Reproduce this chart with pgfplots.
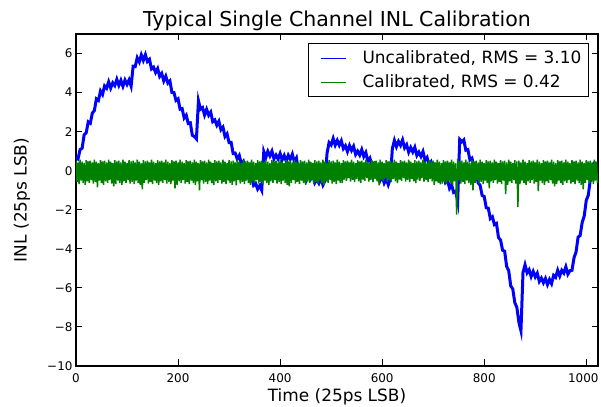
\documentclass[border=0pt]{standalone}
\usepackage{fontspec}
\setmainfont{DejaVu Sans}
\usepackage{pgfplots}
\pgfplotsset{compat=1.18}
\usepackage{pgfplotstable}

% uncalibrated INL, every 4 LSB
\pgfplotstableread{
x y
0 0.68
4 0.60
8 1.08
12 1.15
16 1.84
20 1.94
24 2.50
28 2.43
32 2.95
36 3.08
40 3.68
44 3.60
48 4.08
52 3.90
56 4.34
60 4.22
64 4.55
68 4.23
72 4.50
76 4.36
80 4.68
84 4.37
88 4.63
92 4.32
96 4.64
100 4.42
104 4.65
108 4.33
112 5.35
116 5.33
120 5.78
124 5.57
128 5.93
132 5.65
136 5.94
140 5.59
144 5.70
148 5.21
152 5.30
156 5.03
160 5.23
164 4.83
168 4.98
172 4.60
176 4.84
180 4.49
184 4.60
188 4.01
192 4.00
196 3.60
200 3.68
204 3.15
208 3.18
212 2.70
216 2.84
220 2.42
224 2.45
228 1.81
232 1.75
236 1.63
240 3.58
244 3.15
248 3.23
252 2.85
256 3.14
260 2.84
264 3.00
268 2.51
272 2.60
276 2.33
280 2.53
284 2.10
288 2.23
292 1.75
296 1.89
300 1.44
304 1.45
308 0.88
312 0.90
316 0.60
320 0.78
324 0.35
328 0.48
332 0.05
336 0.24
340 -0.21
344 -0.25
348 -0.75
352 -0.65
356 -0.94
360 -0.77
364 -1.00
368 0.98
372 0.68
376 0.99
380 0.76
384 1.00
388 0.61
392 0.80
396 0.60
400 0.88
404 0.55
408 0.78
412 0.48
416 0.79
420 0.59
424 0.85
428 0.45
432 0.65
436 -0.02
440 0.08
444 -0.30
448 -0.12
452 -0.45
456 -0.16
460 -0.41
464 -0.20
468 -0.62
472 -0.45
476 -0.64
480 -0.37
484 -0.73
488 -0.52
492 0.90
496 1.44
500 1.32
504 1.65
508 1.31
512 1.55
516 1.30
520 1.53
524 1.13
528 1.28
532 0.98
536 1.29
540 1.04
544 1.25
548 0.83
552 1.00
556 0.80
560 1.08
564 0.73
568 0.93
572 0.48
576 0.64
580 0.26
584 0.35
588 -0.25
592 -0.25
596 -0.50
600 -0.27
604 -0.63
608 -0.42
612 -0.72
616 -0.41
620 1.14
624 1.55
628 1.23
632 1.50
636 1.30
640 1.58
644 1.17
648 1.33
652 0.95
656 1.19
660 0.96
664 1.20
668 0.78
672 0.95
676 0.73
680 0.98
684 0.55
688 0.68
692 0.25
696 0.44
700 0.12
704 0.25
708 -0.22
712 -0.10
716 -0.37
720 -0.17
724 -0.60
728 -0.47
732 -0.90
736 -0.71
740 -1.11
744 -1.05
748 -1.57
752 1.60
756 1.48
760 1.58
764 1.05
768 1.08
772 0.55
776 0.64
780 0.14
784 0.10
788 -0.62
792 -0.75
796 -1.27
800 -1.32
804 -1.90
808 -1.92
812 -2.45
816 -2.36
820 -2.76
824 -2.70
828 -3.42
832 -3.55
836 -4.07
840 -4.12
844 -4.90
848 -5.12
852 -5.90
856 -6.06
860 -6.76
864 -7.00
868 -7.77
872 -8.20
876 -5.22
880 -4.82
884 -5.23
888 -5.07
892 -5.42
896 -5.16
900 -5.44
904 -5.25
908 -5.67
912 -5.50
916 -5.74
920 -5.52
924 -5.83
928 -5.57
932 -5.78
936 -5.36
940 -5.46
944 -5.10
948 -5.39
952 -5.10
956 -5.24
960 -4.92
964 -5.30
968 -5.12
972 -5.10
976 -4.46
980 -4.16
984 -3.40
988 -3.32
992 -2.65
996 -2.32
1000 -1.52
1004 -1.25
1008 -0.42
1012 -0.35
1016 0.34
1020 0.24
}\uncal

\definecolor{mplblue}{RGB}{0,0,255}
\definecolor{mplgreen}{RGB}{0,128,0}
% line sample set inside the legend text
\newcommand{\sample}[1]{\textcolor{#1}{\rule[4.25bp]{25bp}{1.5bp}}\hspace{17bp}}

\begin{document}
\begin{tikzpicture}
\useasboundingbox (-76bp,-41bp) rectangle (525bp,366bp);
\begin{axis}[
    at={(0,0)}, anchor=south west,
    scale only axis,
    width=522bp, height=332bp,
    xmin=0, xmax=1023,
    ymin=-10, ymax=7,
    xtick={0,200,400,600,800,1000},
    xticklabels={0,200,400,600,800,{\hspace{-6bp}1000}},
    ytick={-10,-8,-6,-4,-2,0,2,4,6},
    yticklabels={−10,−8,−6,−4,−2,0,2,4,6},
    tick align=inside,
    major tick length=6.5bp,
    tick style={black, line width=1bp},
    axis line style={black, line width=1.2bp},
    ticklabel style={font=\fontsize{12}{14}\selectfont},
    xticklabel style={anchor=base, yshift=-16.5bp},
    title={Typical Single Channel INL Calibration},
    title style={font=\fontsize{20.6}{24}\selectfont, at={(axis description cs:0.5,1)}, anchor=base, yshift=2bp},
    xlabel={Time (25ps LSB)},
    xlabel style={font=\fontsize{17}{20}\selectfont, at={(axis description cs:0.5,0)}, anchor=center, yshift=-31bp},
    ylabel={INL (25ps LSB)},
    ylabel style={font=\fontsize{17}{20}\selectfont, at={(axis description cs:-0.1034,0.5)}, anchor=center},
    legend style={at={(0.9833,0.9738)}, anchor=north east, draw=black, line width=1bp,
        font=\fontsize{17}{20}\selectfont, inner xsep=10bp, inner ysep=5.3bp,
        row sep=5.8bp, column sep=0bp,
        cells={anchor=west}},
    legend image code/.code={},
]
\addplot[mplblue, line width=3bp] table[x=x, y=y] {\uncal};
\addlegendentry{\sample{mplblue}Uncalibrated, RMS = 3.10\kern-4.5bp}
% calibrated INL, every 2 LSB
\addplot[mplgreen, line width=1.5bp] coordinates {
(0,0.52) (2,-0.57) (4,0.42) (6,-0.68) (8,0.56) (10,-0.51) (12,0.46) (14,-0.64)
(16,0.38) (18,-0.73) (20,0.54) (22,-0.55) (24,0.48) (26,-0.62) (28,0.52) (30,-0.48)
(32,0.42) (34,-0.66) (36,0.56) (38,-0.57) (40,0.46) (42,-0.85) (44,0.38) (46,-0.51)
(48,0.54) (50,-0.64) (52,0.48) (54,-0.73) (56,0.52) (58,-0.55) (60,0.42) (62,-0.62)
(64,0.56) (66,-0.48) (68,0.46) (70,-0.66) (72,0.38) (74,-0.80) (76,0.54) (78,-0.68)
(80,0.48) (82,-0.51) (84,0.52) (86,-0.64) (88,0.42) (90,-0.73) (92,0.56) (94,-0.55)
(96,0.46) (98,-0.62) (100,0.38) (102,-0.48) (104,0.54) (106,-0.66) (108,0.48) (110,-0.57)
(112,0.52) (114,-0.68) (116,0.42) (118,-0.51) (120,0.56) (122,-0.64) (124,0.46) (126,-0.73)
(128,0.38) (130,-0.95) (132,0.54) (134,-0.62) (136,0.48) (138,-0.48) (140,0.52) (142,-0.66)
(144,0.42) (146,-0.57) (148,0.56) (150,-0.68) (152,0.46) (154,-0.51) (156,0.38) (158,-0.64)
(160,0.54) (162,-0.73) (164,0.48) (166,-0.55) (168,0.52) (170,-0.62) (172,0.42) (174,-0.48)
(176,0.56) (178,-0.66) (180,0.46) (182,-0.57) (184,0.38) (186,-0.68) (188,0.54) (190,-0.51)
(192,0.48) (194,-0.90) (196,0.52) (198,-0.73) (200,0.42) (202,-0.55) (204,0.56) (206,-0.62)
(208,0.46) (210,-0.48) (212,0.38) (214,-0.66) (216,0.54) (218,-0.57) (220,0.48) (222,-0.68)
(224,0.52) (226,-0.51) (228,0.42) (230,-0.64) (232,0.56) (234,-0.73) (236,0.46) (238,-0.55)
(240,0.38) (242,-1.00) (244,0.54) (246,-0.48) (248,0.48) (250,-0.66) (252,0.52) (254,-0.57)
(256,0.42) (258,-0.68) (260,0.56) (262,-0.51) (264,0.46) (266,-0.64) (268,0.38) (270,-0.73)
(272,0.54) (274,-0.55) (276,0.48) (278,-0.62) (280,0.52) (282,-0.48) (284,0.42) (286,-0.66)
(288,0.56) (290,-0.57) (292,0.46) (294,-0.68) (296,0.38) (298,-0.51) (300,0.54) (302,-0.64)
(304,0.48) (306,-0.73) (308,0.52) (310,-0.55) (312,0.42) (314,-0.75) (316,0.56) (318,-0.48)
(320,0.46) (322,-0.66) (324,0.38) (326,-0.57) (328,0.54) (330,-0.68) (332,0.48) (334,-0.51)
(336,0.52) (338,-0.64) (340,0.42) (342,-0.73) (344,0.56) (346,-0.55) (348,0.46) (350,-0.62)
(352,0.38) (354,-0.48) (356,0.54) (358,-0.66) (360,0.48) (362,-0.57) (364,0.52) (366,-0.68)
(368,0.42) (370,-0.51) (372,0.56) (374,-0.64) (376,0.46) (378,-0.73) (380,0.38) (382,-0.55)
(384,0.54) (386,-0.62) (388,0.48) (390,-0.48) (392,0.52) (394,-0.66) (396,0.42) (398,-0.57)
(400,0.56) (402,-0.68) (404,0.46) (406,-0.51) (408,0.38) (410,-0.64) (412,0.54) (414,-0.73)
(416,0.48) (418,-0.80) (420,0.52) (422,-0.62) (424,0.42) (426,-0.48) (428,0.56) (430,-0.66)
(432,0.46) (434,-0.57) (436,0.38) (438,-0.68) (440,0.54) (442,-0.51) (444,0.48) (446,-0.64)
(448,0.52) (450,-0.73) (452,0.42) (454,-0.55) (456,0.56) (458,-0.62) (460,0.46) (462,-0.48)
(464,0.38) (466,-0.66) (468,0.54) (470,-0.57) (472,0.48) (474,-0.68) (476,0.52) (478,-0.51)
(480,0.42) (482,-0.64) (484,0.56) (486,-0.73) (488,0.46) (490,-0.55) (492,0.38) (494,-0.62)
(496,0.54) (498,-0.48) (500,0.48) (502,-0.66) (504,0.52) (506,-0.57) (508,0.42) (510,-0.68)
(512,0.56) (514,-0.51) (516,0.46) (518,-0.64) (520,0.38) (522,-0.63) (524,0.54) (526,-0.45)
(528,0.48) (530,-0.52) (532,0.52) (534,-0.38) (536,0.42) (538,-0.56) (540,0.56) (542,-0.47)
(544,0.46) (546,-0.58) (548,0.38) (550,-0.41) (552,0.54) (554,-0.54) (556,0.48) (558,-0.63)
(560,0.52) (562,-0.45) (564,0.42) (566,-0.52) (568,0.56) (570,-0.38) (572,0.46) (574,-0.56)
(576,0.38) (578,-0.47) (580,0.54) (582,-0.58) (584,0.48) (586,-0.41) (588,0.52) (590,-0.54)
(592,0.42) (594,-0.75) (596,0.56) (598,-0.45) (600,0.46) (602,-0.52) (604,0.38) (606,-0.38)
(608,0.54) (610,-0.56) (612,0.48) (614,-0.47) (616,0.52) (618,-0.58) (620,0.42) (622,-0.41)
(624,0.56) (626,-0.54) (628,0.46) (630,-0.63) (632,0.38) (634,-0.45) (636,0.54) (638,-0.52)
(640,0.48) (642,-0.38) (644,0.52) (646,-0.56) (648,0.42) (650,-0.47) (652,0.56) (654,-0.58)
(656,0.46) (658,-0.41) (660,0.38) (662,-0.54) (664,0.54) (666,-0.63) (668,0.48) (670,-0.45)
(672,0.52) (674,-0.52) (676,0.42) (678,-0.38) (680,0.56) (682,-0.56) (684,0.46) (686,-0.47)
(688,0.38) (690,-0.58) (692,0.54) (694,-0.41) (696,0.48) (698,-0.54) (700,0.52) (702,-0.73)
(704,0.42) (706,-0.55) (708,0.56) (710,-0.62) (712,0.46) (714,-0.70) (716,0.38) (718,-0.66)
(720,0.54) (722,-0.57) (724,0.48) (726,-0.68) (728,0.52) (730,-0.51) (732,0.42) (734,-0.64)
(736,0.56) (738,-0.73) (740,0.46) (742,-0.55) (744,0.38) (746,-2.25) (748,0.62) (750,-0.48)
(752,0.48) (754,-0.66) (756,0.52) (758,-0.57) (760,0.42) (762,-0.68) (764,0.56) (766,-0.51)
(768,0.46) (770,-0.64) (772,0.38) (774,-0.73) (776,0.54) (778,-1.00) (780,0.48) (782,-0.62)
(784,0.52) (786,-0.48) (788,0.42) (790,-0.66) (792,0.56) (794,-0.57) (796,0.46) (798,-0.68)
(800,0.38) (802,-0.51) (804,0.54) (806,-0.64) (808,0.48) (810,-0.90) (812,0.52) (814,-0.55)
(816,0.42) (818,-0.62) (820,0.56) (822,-0.48) (824,0.46) (826,-0.66) (828,0.38) (830,-0.57)
(832,0.54) (834,-0.68) (836,0.48) (838,-0.51) (840,0.52) (842,-1.20) (844,0.42) (846,-0.73)
(848,0.56) (850,-0.55) (852,0.46) (854,-0.62) (856,0.38) (858,-0.48) (860,0.54) (862,-0.66)
(864,0.48) (866,-1.85) (868,0.52) (870,-0.68) (872,0.42) (874,-0.51) (876,0.56) (878,-0.64)
(880,0.46) (882,-0.73) (884,0.38) (886,-0.55) (888,0.54) (890,-0.62) (892,0.48) (894,-0.48)
(896,0.52) (898,-0.66) (900,0.42) (902,-0.57) (904,0.56) (906,-1.05) (908,0.46) (910,-0.51)
(912,0.38) (914,-0.64) (916,0.54) (918,-0.73) (920,0.48) (922,-0.55) (924,0.52) (926,-0.62)
(928,0.42) (930,-0.48) (932,0.56) (934,-0.66) (936,0.46) (938,-0.80) (940,0.38) (942,-0.68)
(944,0.54) (946,-0.51) (948,0.48) (950,-0.64) (952,0.52) (954,-0.73) (956,0.42) (958,-0.55)
(960,0.56) (962,-0.62) (964,0.46) (966,-0.48) (968,0.38) (970,-0.66) (972,0.54) (974,-0.57)
(976,0.48) (978,-0.68) (980,0.52) (982,-0.51) (984,0.42) (986,-0.64) (988,0.56) (990,-0.73)
(992,0.46) (994,-0.95) (996,0.38) (998,-0.62) (1000,0.54) (1002,-0.48) (1004,0.48) (1006,-0.66)
(1008,0.52) (1010,-0.57) (1012,0.42) (1014,-0.68) (1016,0.56) (1018,-0.51) (1020,0.46) (1022,-0.64)
};
\addlegendentry{\sample{mplgreen}Calibrated, RMS = 0.42\kern-4.5bp}
\end{axis}
\end{tikzpicture}
\end{document}
